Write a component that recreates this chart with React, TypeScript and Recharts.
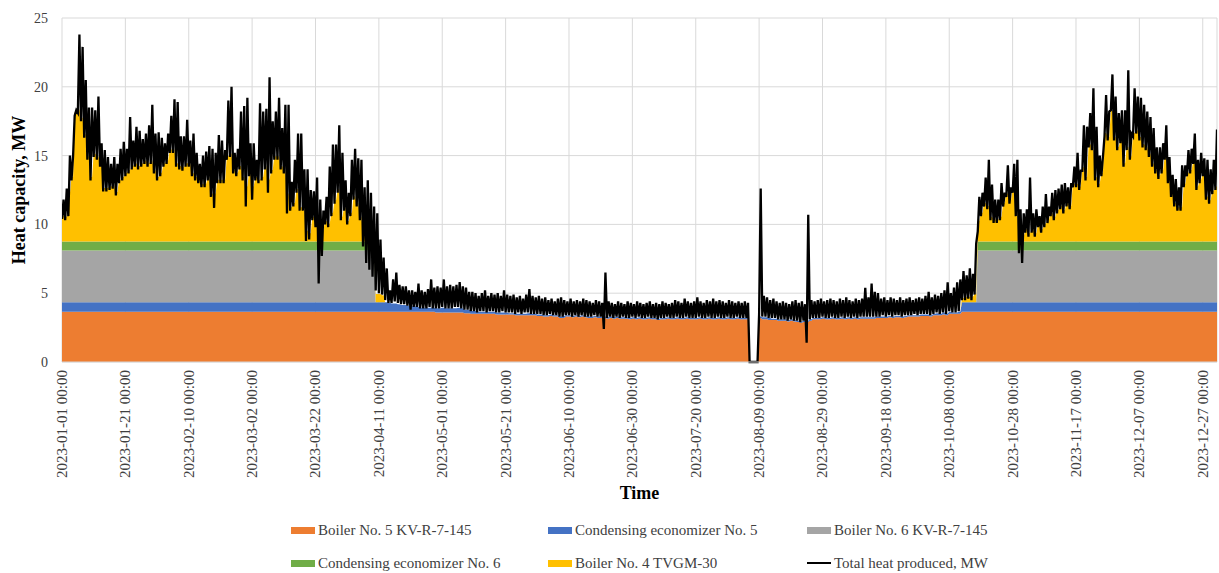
import React from 'react';
import { ComposedChart, Area, Line, XAxis, YAxis, CartesianGrid, Label } from 'recharts';

// ---- axis ticks ----
const tickDays = [0, 20, 40, 60, 80, 100, 120, 140, 160, 180, 200, 220, 240, 260, 280, 300, 320, 340, 360];
const tickLabels = [
  '2023-01-01 00:00', '2023-01-21 00:00', '2023-02-10 00:00', '2023-03-02 00:00', '2023-03-22 00:00',
  '2023-04-11 00:00', '2023-05-01 00:00', '2023-05-21 00:00', '2023-06-10 00:00', '2023-06-30 00:00',
  '2023-07-20 00:00', '2023-08-09 00:00', '2023-08-29 00:00', '2023-09-18 00:00', '2023-10-08 00:00',
  '2023-10-28 00:00', '2023-11-17 00:00', '2023-12-07 00:00', '2023-12-27 00:00',
];
const yTicks = [0, 5, 10, 15, 20, 25];

// ---- series names / colours ----
const seriesNames = [
  'Boiler No. 5 KV-R-7-145',
  'Condensing economizer No. 5',
  'Boiler No. 6 KV-R-7-145',
  'Condensing economizer No. 6',
  'Boiler No. 4 TVGM-30',
  'Total heat produced, MW',
];
const seriesColors = ['#ED7D31', '#4472C4', '#A5A5A5', '#70AD47', '#FFC000', '#000000'];

// ---- daily values, day 0 = 2023-01-01 ----
// daily peak of total heat produced, MW
const totalHigh = [
  11.8, 12.6, 15.0, 15.0, 18.3, 23.8, 22.9, 20.5, 18.5, 18.5, // 0
  18.3, 19.3, 15.9, 15.4, 14.9, 14.4, 14.9, 14.4, 15.5, 16.0, // 10
  15.5, 17.8, 16.1, 17.1, 16.8, 16.2, 16.6, 17.2, 18.7, 16.6, // 20
  16.7, 16.3, 15.9, 16.6, 17.9, 19.1, 18.9, 16.4, 16.4, 17.6, // 30
  16.1, 16.6, 15.2, 14.4, 15.0, 15.3, 15.7, 15.5, 15.2, 16.5, // 40
  16.1, 15.4, 19.0, 20.0, 15.2, 15.5, 18.2, 18.6, 19.2, 15.9, // 50
  15.9, 14.7, 18.8, 18.2, 18.4, 20.7, 17.5, 18.2, 19.2, 17.0, // 60
  18.7, 18.7, 13.1, 14.7, 16.6, 16.6, 14.0, 14.0, 12.5, 12.4, // 70
  13.4, 11.8, 11.0, 12.0, 14.2, 15.8, 15.8, 17.2, 15.2, 13.2, // 80
  12.3, 14.7, 15.5, 14.8, 14.7, 12.7, 13.2, 12.3, 11.3, 10.8, // 90
  8.9, 7.6, 6.8, 5.2, 6.0, 6.5, 5.6, 5.5, 5.5, 5.2, // 100
  5.2, 5.1, 5.7, 5.2, 5.1, 5.3, 6.0, 5.4, 5.5, 5.4, // 110
  6.0, 5.5, 5.6, 5.5, 5.6, 5.8, 5.5, 5.4, 5.1, 5.1, // 120
  5.0, 4.8, 5.0, 5.2, 4.8, 5.0, 4.9, 5.0, 4.8, 5.2, // 130
  4.9, 4.8, 4.9, 4.7, 4.8, 4.6, 4.9, 5.3, 4.8, 4.7, // 140
  4.8, 4.6, 4.7, 4.5, 4.6, 4.4, 4.6, 4.7, 4.5, 4.4, // 150
  4.6, 4.4, 4.5, 4.4, 4.6, 4.5, 4.4, 4.3, 4.5, 4.4, // 160
  4.3, 6.5, 4.4, 4.3, 4.2, 4.4, 4.3, 4.2, 4.4, 4.3, // 170
  4.2, 4.4, 4.3, 4.2, 4.3, 4.4, 4.2, 4.3, 4.2, 4.4, // 180
  4.3, 4.2, 4.3, 4.5, 4.4, 4.3, 4.6, 4.4, 4.3, 4.4, // 190
  4.7, 4.4, 4.3, 4.5, 4.4, 4.6, 4.4, 4.5, 4.4, 4.3, // 200
  4.5, 4.4, 4.3, 4.4, 4.3, 4.4, 4.3, 0, 0, 0, // 210
  12.6, 4.8, 4.7, 4.5, 4.6, 4.4, 4.3, 4.4, 4.3, 4.2, // 220
  4.4, 4.5, 4.3, 4.4, 4.2, 10.7, 4.5, 4.4, 4.5, 4.6, // 230
  4.4, 4.5, 4.6, 4.5, 4.4, 4.6, 4.5, 4.7, 4.5, 4.4, // 240
  4.6, 4.5, 4.6, 5.4, 4.7, 5.7, 5.1, 5.0, 4.6, 4.7, // 250
  4.5, 4.7, 4.6, 4.5, 4.7, 4.5, 4.6, 4.7, 4.5, 4.6, // 260
  4.7, 4.6, 4.8, 5.1, 4.7, 4.9, 4.8, 5.0, 5.2, 5.8, // 270
  5.0, 5.4, 5.8, 6.0, 6.6, 6.3, 6.8, 6.4, 8.6, 12.0, // 280
  12.3, 13.4, 14.7, 12.9, 11.8, 11.8, 13.0, 12.3, 14.3, 12.7, // 290
  14.4, 14.7, 11.1, 10.8, 11.1, 13.4, 10.8, 11.1, 10.6, 11.3, // 300
  12.2, 11.3, 12.3, 12.5, 12.6, 12.9, 13.0, 12.7, 13.0, 14.2, // 310
  15.2, 13.9, 17.2, 17.1, 18.1, 19.9, 17.1, 15.0, 14.9, 19.4, // 320
  18.2, 20.9, 19.3, 18.1, 18.3, 18.3, 21.2, 16.6, 19.9, 19.3, // 330
  19.2, 18.7, 18.2, 17.8, 17.0, 15.6, 15.6, 15.9, 17.2, 14.9, // 340
  13.6, 13.3, 12.7, 14.3, 14.3, 15.4, 15.5, 16.6, 14.7, 15.2, // 350
  14.8, 14.7, 14.0, 14.7, 16.9, // 360
];

// daily low of total heat produced, MW
const totalLow = [
  10.4, 10.3, 10.6, 13.2, 17.9, 18.1, 17.5, 16.3, 14.7, 13.2, // 0
  14.9, 14.7, 14.2, 12.4, 12.4, 12.5, 12.6, 12.1, 13.0, 13.2, // 10
  13.5, 13.7, 14.0, 14.2, 14.0, 14.2, 14.4, 14.2, 14.4, 13.7, // 20
  13.2, 13.5, 14.2, 14.4, 15.2, 15.2, 14.2, 14.0, 13.9, 14.2, // 30
  14.2, 13.5, 13.2, 13.0, 12.7, 12.7, 13.2, 12.0, 11.2, 13.0, // 40
  13.0, 13.0, 14.7, 14.9, 13.7, 13.5, 14.0, 13.2, 11.3, 13.5, // 50
  11.8, 13.2, 13.0, 13.2, 14.0, 12.3, 13.7, 14.7, 14.7, 14.0, // 60
  13.7, 10.8, 11.0, 11.3, 12.3, 11.0, 11.0, 8.8, 8.9, 10.3, // 70
  9.8, 5.7, 7.7, 10.0, 9.8, 10.6, 11.5, 12.3, 10.3, 11.0, // 80
  10.0, 10.6, 11.8, 11.3, 10.3, 8.4, 7.2, 6.7, 6.2, 5.2, // 90
  5.0, 4.9, 4.5, 4.3, 4.3, 4.4, 4.3, 4.2, 4.2, 4.1, // 100
  3.8, 4.0, 4.0, 3.9, 3.9, 3.9, 4.0, 3.9, 3.9, 3.9, // 110
  4.0, 3.9, 3.9, 3.9, 4.0, 4.0, 3.9, 3.8, 3.8, 3.7, // 120
  3.7, 3.6, 3.7, 3.7, 3.6, 3.7, 3.7, 3.6, 3.6, 3.7, // 130
  3.6, 3.6, 3.6, 3.5, 3.6, 3.5, 3.6, 3.6, 3.5, 3.5, // 140
  3.5, 3.5, 3.4, 3.4, 3.5, 3.4, 3.4, 3.3, 3.3, 3.4, // 150
  3.4, 3.3, 3.4, 3.3, 3.4, 3.3, 3.3, 3.3, 3.4, 3.3, // 160
  3.3, 2.4, 3.2, 3.3, 3.2, 3.3, 3.2, 3.3, 3.2, 3.2, // 170
  3.3, 3.2, 3.3, 3.2, 3.2, 3.3, 3.2, 3.2, 3.1, 3.2, // 180
  3.2, 3.3, 3.2, 3.2, 3.3, 3.2, 3.2, 3.3, 3.2, 3.2, // 190
  3.2, 3.3, 3.2, 3.2, 3.3, 3.2, 3.2, 3.3, 3.2, 3.2, // 200
  3.3, 3.2, 3.2, 3.3, 3.2, 3.2, 3.2, 0, 0, 0, // 210
  3.5, 3.3, 3.3, 3.2, 3.2, 3.2, 3.1, 3.1, 3.1, 3.0, // 220
  3.1, 3.0, 3.0, 2.9, 3.0, 1.4, 3.1, 3.2, 3.2, 3.2, // 230
  3.3, 3.2, 3.2, 3.3, 3.2, 3.2, 3.3, 3.2, 3.3, 3.2, // 240
  3.3, 3.2, 3.3, 3.3, 3.3, 3.3, 3.3, 3.3, 3.3, 3.4, // 250
  3.3, 3.4, 3.3, 3.4, 3.4, 3.3, 3.4, 3.4, 3.4, 3.5, // 260
  3.4, 3.5, 3.5, 3.5, 3.4, 3.5, 3.6, 3.5, 3.6, 3.5, // 270
  3.7, 3.6, 3.6, 3.7, 4.5, 4.5, 4.6, 4.5, 4.9, 9.5, // 280
  10.6, 11.3, 11.1, 10.3, 10.1, 10.1, 10.3, 11.3, 12.0, 11.5, // 290
  12.3, 10.6, 7.9, 7.2, 9.4, 9.1, 9.4, 9.1, 9.8, 9.4, // 300
  9.8, 10.1, 10.6, 10.3, 10.8, 11.1, 10.8, 11.3, 11.1, 12.7, // 310
  12.7, 12.5, 13.9, 13.2, 15.6, 15.4, 13.2, 12.7, 13.5, 16.4, // 320
  16.1, 18.3, 16.1, 15.4, 15.9, 14.2, 15.4, 14.7, 16.4, 16.6, // 330
  16.1, 15.6, 15.4, 14.9, 14.2, 13.7, 13.3, 13.7, 14.7, 13.0, // 340
  12.0, 11.3, 11.0, 11.0, 12.7, 13.5, 13.7, 14.4, 12.5, 13.0, // 350
  13.5, 11.8, 11.5, 12.2, 12.5, // 360
];

// Boiler No. 5 KV-R-7-145, MW
const boiler5 = [
  3.65, 3.65, 3.65, 3.65, 3.65, 3.65, 3.65, 3.65, 3.65, 3.65, // 0
  3.65, 3.65, 3.65, 3.65, 3.65, 3.65, 3.65, 3.65, 3.65, 3.65, // 10
  3.65, 3.65, 3.65, 3.65, 3.65, 3.65, 3.65, 3.65, 3.65, 3.65, // 20
  3.65, 3.65, 3.65, 3.65, 3.65, 3.65, 3.65, 3.65, 3.65, 3.65, // 30
  3.65, 3.65, 3.65, 3.65, 3.65, 3.65, 3.65, 3.65, 3.65, 3.65, // 40
  3.65, 3.65, 3.65, 3.65, 3.65, 3.65, 3.65, 3.65, 3.65, 3.65, // 50
  3.65, 3.65, 3.65, 3.65, 3.65, 3.65, 3.65, 3.65, 3.65, 3.65, // 60
  3.65, 3.65, 3.65, 3.65, 3.65, 3.65, 3.65, 3.65, 3.65, 3.65, // 70
  3.65, 3.65, 3.65, 3.65, 3.65, 3.65, 3.65, 3.65, 3.65, 3.65, // 80
  3.65, 3.65, 3.65, 3.65, 3.65, 3.65, 3.65, 3.65, 3.65, 3.65, // 90
  3.65, 3.65, 3.65, 3.65, 3.65, 3.65, 3.65, 3.65, 3.65, 3.65, // 100
  3.65, 3.65, 3.65, 3.65, 3.65, 3.65, 3.65, 3.65, 3.6, 3.6, // 110
  3.6, 3.6, 3.6, 3.6, 3.6, 3.6, 3.6, 3.55, 3.55, 3.5, // 120
  3.5, 3.5, 3.5, 3.5, 3.5, 3.5, 3.5, 3.45, 3.45, 3.45, // 130
  3.45, 3.45, 3.45, 3.4, 3.4, 3.4, 3.4, 3.4, 3.4, 3.4, // 140
  3.35, 3.35, 3.3, 3.3, 3.35, 3.3, 3.3, 3.2, 3.2, 3.3, // 150
  3.3, 3.25, 3.3, 3.25, 3.3, 3.25, 3.2, 3.2, 3.25, 3.2, // 160
  3.2, 3.2, 3.15, 3.2, 3.15, 3.2, 3.15, 3.15, 3.15, 3.1, // 170
  3.15, 3.1, 3.15, 3.1, 3.1, 3.15, 3.1, 3.1, 3.05, 3.1, // 180
  3.1, 3.15, 3.1, 3.1, 3.15, 3.1, 3.1, 3.15, 3.1, 3.1, // 190
  3.1, 3.15, 3.1, 3.1, 3.15, 3.1, 3.1, 3.15, 3.1, 3.1, // 200
  3.15, 3.1, 3.1, 3.15, 3.1, 3.1, 3.1, 0, 0, 0, // 210
  3.2, 3.1, 3.1, 3.05, 3.05, 3.05, 3.0, 3.0, 3.0, 2.95, // 220
  3.0, 2.95, 2.9, 2.85, 2.9, 2.9, 3.0, 3.1, 3.1, 3.1, // 230
  3.15, 3.1, 3.1, 3.15, 3.1, 3.1, 3.15, 3.1, 3.15, 3.1, // 240
  3.15, 3.1, 3.15, 3.15, 3.15, 3.15, 3.15, 3.2, 3.2, 3.2, // 250
  3.2, 3.25, 3.2, 3.25, 3.25, 3.2, 3.25, 3.3, 3.3, 3.3, // 260
  3.3, 3.35, 3.35, 3.35, 3.3, 3.4, 3.4, 3.4, 3.45, 3.4, // 270
  3.5, 3.5, 3.5, 3.5, 3.65, 3.65, 3.65, 3.65, 3.65, 3.65, // 280
  3.65, 3.65, 3.65, 3.65, 3.65, 3.65, 3.65, 3.65, 3.65, 3.65, // 290
  3.65, 3.65, 3.65, 3.65, 3.65, 3.65, 3.65, 3.65, 3.65, 3.65, // 300
  3.65, 3.65, 3.65, 3.65, 3.65, 3.65, 3.65, 3.65, 3.65, 3.65, // 310
  3.65, 3.65, 3.65, 3.65, 3.65, 3.65, 3.65, 3.65, 3.65, 3.65, // 320
  3.65, 3.65, 3.65, 3.65, 3.65, 3.65, 3.65, 3.65, 3.65, 3.65, // 330
  3.65, 3.65, 3.65, 3.65, 3.65, 3.65, 3.65, 3.65, 3.65, 3.65, // 340
  3.65, 3.65, 3.65, 3.65, 3.65, 3.65, 3.65, 3.65, 3.65, 3.65, // 350
  3.65, 3.65, 3.65, 3.65, 3.65, // 360
];

// Condensing economizer No. 5, MW
const econ5 = [
  0.7, 0.7, 0.7, 0.7, 0.7, 0.7, 0.7, 0.7, 0.7, 0.7, // 0
  0.7, 0.7, 0.7, 0.7, 0.7, 0.7, 0.7, 0.7, 0.7, 0.7, // 10
  0.7, 0.7, 0.7, 0.7, 0.7, 0.7, 0.7, 0.7, 0.7, 0.7, // 20
  0.7, 0.7, 0.7, 0.7, 0.7, 0.7, 0.7, 0.7, 0.7, 0.7, // 30
  0.7, 0.7, 0.7, 0.7, 0.7, 0.7, 0.7, 0.7, 0.7, 0.7, // 40
  0.7, 0.7, 0.7, 0.7, 0.7, 0.7, 0.7, 0.7, 0.7, 0.7, // 50
  0.7, 0.7, 0.7, 0.7, 0.7, 0.7, 0.7, 0.7, 0.7, 0.7, // 60
  0.7, 0.7, 0.7, 0.7, 0.7, 0.7, 0.7, 0.7, 0.7, 0.7, // 70
  0.7, 0.7, 0.7, 0.7, 0.7, 0.7, 0.7, 0.7, 0.7, 0.7, // 80
  0.7, 0.7, 0.7, 0.7, 0.7, 0.7, 0.7, 0.7, 0.7, 0.7, // 90
  0.7, 0.7, 0.7, 0.65, 0.6, 0.6, 0.55, 0.5, 0.5, 0.45, // 100
  0.4, 0.4, 0.35, 0.3, 0.3, 0.3, 0.3, 0.3, 0.3, 0.3, // 110
  0.35, 0.3, 0.3, 0.3, 0.3, 0.35, 0.3, 0.25, 0.25, 0.2, // 120
  0.2, 0.15, 0.15, 0.15, 0.15, 0.15, 0.15, 0.15, 0.15, 0.15, // 130
  0.15, 0.1, 0.1, 0.1, 0.1, 0.1, 0.1, 0.15, 0.1, 0.1, // 140
  0.1, 0.1, 0.1, 0.1, 0.1, 0.1, 0.1, 0.1, 0.15, 0.1, // 150
  0.1, 0.1, 0.1, 0.1, 0.1, 0.1, 0.1, 0.1, 0.1, 0.1, // 160
  0.1, 0.1, 0.1, 0.1, 0.1, 0.1, 0.1, 0.1, 0.1, 0.1, // 170
  0.1, 0.1, 0.1, 0.1, 0.1, 0.1, 0.1, 0.1, 0.1, 0.1, // 180
  0.1, 0.1, 0.1, 0.1, 0.1, 0.1, 0.1, 0.1, 0.1, 0.1, // 190
  0.1, 0.1, 0.1, 0.1, 0.1, 0.1, 0.1, 0.1, 0.1, 0.1, // 200
  0.1, 0.1, 0.1, 0.1, 0.1, 0.1, 0.1, 0, 0, 0, // 210
  0.1, 0.15, 0.15, 0.15, 0.1, 0.1, 0.1, 0.1, 0.1, 0.1, // 220
  0.1, 0.1, 0.1, 0.1, 0.1, 0.1, 0.1, 0.1, 0.1, 0.1, // 230
  0.1, 0.1, 0.1, 0.1, 0.1, 0.1, 0.1, 0.1, 0.1, 0.1, // 240
  0.1, 0.1, 0.1, 0.1, 0.1, 0.1, 0.1, 0.1, 0.1, 0.1, // 250
  0.1, 0.1, 0.1, 0.1, 0.1, 0.1, 0.1, 0.1, 0.1, 0.1, // 260
  0.1, 0.1, 0.1, 0.1, 0.1, 0.1, 0.15, 0.1, 0.15, 0.1, // 270
  0.15, 0.1, 0.1, 0.15, 0.7, 0.7, 0.7, 0.7, 0.7, 0.7, // 280
  0.7, 0.7, 0.7, 0.7, 0.7, 0.7, 0.7, 0.7, 0.7, 0.7, // 290
  0.7, 0.7, 0.7, 0.7, 0.7, 0.7, 0.7, 0.7, 0.7, 0.7, // 300
  0.7, 0.7, 0.7, 0.7, 0.7, 0.7, 0.7, 0.7, 0.7, 0.7, // 310
  0.7, 0.7, 0.7, 0.7, 0.7, 0.7, 0.7, 0.7, 0.7, 0.7, // 320
  0.7, 0.7, 0.7, 0.7, 0.7, 0.7, 0.7, 0.7, 0.7, 0.7, // 330
  0.7, 0.7, 0.7, 0.7, 0.7, 0.7, 0.7, 0.7, 0.7, 0.7, // 340
  0.7, 0.7, 0.7, 0.7, 0.7, 0.7, 0.7, 0.7, 0.7, 0.7, // 350
  0.7, 0.7, 0.7, 0.7, 0.7, // 360
];

// Boiler No. 6 KV-R-7-145, MW
const boiler6 = [
  3.75, 3.75, 3.75, 3.75, 3.75, 3.75, 3.75, 3.75, 3.75, 3.75, // 0
  3.75, 3.75, 3.75, 3.75, 3.75, 3.75, 3.75, 3.75, 3.75, 3.75, // 10
  3.75, 3.75, 3.75, 3.75, 3.75, 3.75, 3.75, 3.75, 3.75, 3.75, // 20
  3.75, 3.75, 3.75, 3.75, 3.75, 3.75, 3.75, 3.75, 3.75, 3.75, // 30
  3.75, 3.75, 3.75, 3.75, 3.75, 3.75, 3.75, 3.75, 3.75, 3.75, // 40
  3.75, 3.75, 3.75, 3.75, 3.75, 3.75, 3.75, 3.75, 3.75, 3.75, // 50
  3.75, 3.75, 3.75, 3.75, 3.75, 3.75, 3.75, 3.75, 3.75, 3.75, // 60
  3.75, 3.75, 3.75, 3.75, 3.75, 3.75, 3.75, 3.75, 3.75, 3.75, // 70
  3.75, 3.75, 3.75, 3.75, 3.75, 3.75, 3.75, 3.75, 3.75, 3.75, // 80
  3.75, 3.75, 3.75, 3.75, 3.75, 3.75, 3.75, 3.75, 3.75, 0, // 90
  0, 0, 0, 0, 0, 0, 0, 0, 0, 0, // 100
  0, 0, 0, 0, 0, 0, 0, 0, 0, 0, // 110
  0, 0, 0, 0, 0, 0, 0, 0, 0, 0, // 120
  0, 0, 0, 0, 0, 0, 0, 0, 0, 0, // 130
  0, 0, 0, 0, 0, 0, 0, 0, 0, 0, // 140
  0, 0, 0, 0, 0, 0, 0, 0, 0, 0, // 150
  0, 0, 0, 0, 0, 0, 0, 0, 0, 0, // 160
  0, 0, 0, 0, 0, 0, 0, 0, 0, 0, // 170
  0, 0, 0, 0, 0, 0, 0, 0, 0, 0, // 180
  0, 0, 0, 0, 0, 0, 0, 0, 0, 0, // 190
  0, 0, 0, 0, 0, 0, 0, 0, 0, 0, // 200
  0, 0, 0, 0, 0, 0, 0, 0, 0, 0, // 210
  0, 0, 0, 0, 0, 0, 0, 0, 0, 0, // 220
  0, 0, 0, 0, 0, 0, 0, 0, 0, 0, // 230
  0, 0, 0, 0, 0, 0, 0, 0, 0, 0, // 240
  0, 0, 0, 0, 0, 0, 0, 0, 0, 0, // 250
  0, 0, 0, 0, 0, 0, 0, 0, 0, 0, // 260
  0, 0, 0, 0, 0, 0, 0, 0, 0, 0, // 270
  0, 0, 0, 0, 0, 0, 0, 0, 0, 3.75, // 280
  3.75, 3.75, 3.75, 3.75, 3.75, 3.75, 3.75, 3.75, 3.75, 3.75, // 290
  3.75, 3.75, 3.75, 3.75, 3.75, 3.75, 3.75, 3.75, 3.75, 3.75, // 300
  3.75, 3.75, 3.75, 3.75, 3.75, 3.75, 3.75, 3.75, 3.75, 3.75, // 310
  3.75, 3.75, 3.75, 3.75, 3.75, 3.75, 3.75, 3.75, 3.75, 3.75, // 320
  3.75, 3.75, 3.75, 3.75, 3.75, 3.75, 3.75, 3.75, 3.75, 3.75, // 330
  3.75, 3.75, 3.75, 3.75, 3.75, 3.75, 3.75, 3.75, 3.75, 3.75, // 340
  3.75, 3.75, 3.75, 3.75, 3.75, 3.75, 3.75, 3.75, 3.75, 3.75, // 350
  3.75, 3.75, 3.75, 3.75, 3.75, // 360
];

// Condensing economizer No. 6, MW
const econ6 = [
  0.65, 0.65, 0.65, 0.65, 0.65, 0.65, 0.65, 0.65, 0.65, 0.65, // 0
  0.65, 0.65, 0.65, 0.65, 0.65, 0.65, 0.65, 0.65, 0.65, 0.65, // 10
  0.65, 0.65, 0.65, 0.65, 0.65, 0.65, 0.65, 0.65, 0.65, 0.65, // 20
  0.65, 0.65, 0.65, 0.65, 0.65, 0.65, 0.65, 0.65, 0.65, 0.65, // 30
  0.65, 0.65, 0.65, 0.65, 0.65, 0.65, 0.65, 0.65, 0.65, 0.65, // 40
  0.65, 0.65, 0.65, 0.65, 0.65, 0.65, 0.65, 0.65, 0.65, 0.65, // 50
  0.65, 0.65, 0.65, 0.65, 0.65, 0.65, 0.65, 0.65, 0.65, 0.65, // 60
  0.65, 0.65, 0.65, 0.65, 0.65, 0.65, 0.65, 0.65, 0.65, 0.65, // 70
  0.65, 0.65, 0.65, 0.65, 0.65, 0.65, 0.65, 0.65, 0.65, 0.65, // 80
  0.65, 0.65, 0.65, 0.65, 0.65, 0.65, 0.65, 0.65, 0.65, 0, // 90
  0, 0, 0, 0, 0, 0, 0, 0, 0, 0, // 100
  0, 0, 0, 0, 0, 0, 0, 0, 0, 0, // 110
  0, 0, 0, 0, 0, 0, 0, 0, 0, 0, // 120
  0, 0, 0, 0, 0, 0, 0, 0, 0, 0, // 130
  0, 0, 0, 0, 0, 0, 0, 0, 0, 0, // 140
  0, 0, 0, 0, 0, 0, 0, 0, 0, 0, // 150
  0, 0, 0, 0, 0, 0, 0, 0, 0, 0, // 160
  0, 0, 0, 0, 0, 0, 0, 0, 0, 0, // 170
  0, 0, 0, 0, 0, 0, 0, 0, 0, 0, // 180
  0, 0, 0, 0, 0, 0, 0, 0, 0, 0, // 190
  0, 0, 0, 0, 0, 0, 0, 0, 0, 0, // 200
  0, 0, 0, 0, 0, 0, 0, 0, 0, 0, // 210
  0, 0, 0, 0, 0, 0, 0, 0, 0, 0, // 220
  0, 0, 0, 0, 0, 0, 0, 0, 0, 0, // 230
  0, 0, 0, 0, 0, 0, 0, 0, 0, 0, // 240
  0, 0, 0, 0, 0, 0, 0, 0, 0, 0, // 250
  0, 0, 0, 0, 0, 0, 0, 0, 0, 0, // 260
  0, 0, 0, 0, 0, 0, 0, 0, 0, 0, // 270
  0, 0, 0, 0, 0, 0, 0, 0, 0, 0.65, // 280
  0.65, 0.65, 0.65, 0.65, 0.65, 0.65, 0.65, 0.65, 0.65, 0.65, // 290
  0.65, 0.65, 0.65, 0.65, 0.65, 0.65, 0.65, 0.65, 0.65, 0.65, // 300
  0.65, 0.65, 0.65, 0.65, 0.65, 0.65, 0.65, 0.65, 0.65, 0.65, // 310
  0.65, 0.65, 0.65, 0.65, 0.65, 0.65, 0.65, 0.65, 0.65, 0.65, // 320
  0.65, 0.65, 0.65, 0.65, 0.65, 0.65, 0.65, 0.65, 0.65, 0.65, // 330
  0.65, 0.65, 0.65, 0.65, 0.65, 0.65, 0.65, 0.65, 0.65, 0.65, // 340
  0.65, 0.65, 0.65, 0.65, 0.65, 0.65, 0.65, 0.65, 0.65, 0.65, // 350
  0.65, 0.65, 0.65, 0.65, 0.65, // 360
];

// Boiler No. 4 TVGM-30, MW
const boiler4 = [
  1.9, 1.8, 3.5, 4.7, 9.4, 9.6, 9.0, 7.8, 6.2, 4.7, // 0
  6.4, 6.2, 5.7, 3.9, 3.9, 4.0, 4.1, 3.6, 4.5, 4.7, // 10
  5.0, 5.2, 5.5, 5.7, 5.5, 5.7, 5.9, 5.7, 5.9, 5.2, // 20
  4.7, 5.0, 5.7, 5.9, 6.7, 6.7, 5.7, 5.5, 5.4, 5.7, // 30
  5.7, 5.0, 4.7, 4.5, 4.2, 4.2, 4.7, 3.5, 3.5, 4.5, // 40
  4.5, 4.5, 6.2, 6.4, 5.2, 5.0, 5.5, 4.7, 4.0, 5.0, // 50
  4.0, 4.7, 4.5, 4.7, 5.5, 4.5, 5.2, 6.2, 6.2, 5.5, // 60
  5.2, 3.5, 2.5, 2.8, 3.8, 2.5, 2.5, 0.8, 0.6, 1.8, // 70
  1.3, 1.0, 0.8, 1.5, 1.3, 2.1, 3.0, 3.8, 1.8, 2.5, // 80
  1.5, 2.1, 3.3, 2.8, 1.8, 0.6, 0.4, 0.3, 0.2, 0.6, // 90
  0.6, 0.5, 0, 0, 0, 0, 0, 0, 0, 0, // 100
  0, 0, 0, 0, 0, 0, 0, 0, 0, 0, // 110
  0, 0, 0, 0, 0, 0, 0, 0, 0, 0, // 120
  0, 0, 0, 0, 0, 0, 0, 0, 0, 0, // 130
  0, 0, 0, 0, 0, 0, 0, 0, 0, 0, // 140
  0, 0, 0, 0, 0, 0, 0, 0, 0, 0, // 150
  0, 0, 0, 0, 0, 0, 0, 0, 0, 0, // 160
  0, 0, 0, 0, 0, 0, 0, 0, 0, 0, // 170
  0, 0, 0, 0, 0, 0, 0, 0, 0, 0, // 180
  0, 0, 0, 0, 0, 0, 0, 0, 0, 0, // 190
  0, 0, 0, 0, 0, 0, 0, 0, 0, 0, // 200
  0, 0, 0, 0, 0, 0, 0, 0, 0, 0, // 210
  0, 0, 0, 0, 0, 0, 0, 0, 0, 0, // 220
  0, 0, 0, 0, 0, 0, 0, 0, 0, 0, // 230
  0, 0, 0, 0, 0, 0, 0, 0, 0, 0, // 240
  0, 0, 0, 0, 0, 0, 0, 0, 0, 0, // 250
  0, 0, 0, 0, 0, 0, 0, 0, 0, 0, // 260
  0, 0, 0, 0, 0, 0, 0, 0, 0, 0, // 270
  0, 0, 0, 0, 0.3, 0.4, 0.4, 0.4, 0.6, 1.5, // 280
  2.1, 2.8, 2.6, 1.8, 1.6, 1.6, 1.8, 2.8, 3.5, 3.0, // 290
  3.8, 2.1, 0.5, 0.3, 0.9, 0.6, 0.9, 0.6, 1.3, 0.9, // 300
  1.3, 1.6, 2.1, 1.8, 2.3, 2.6, 2.3, 2.8, 2.6, 4.2, // 310
  4.2, 4.0, 5.4, 4.7, 7.1, 6.9, 4.7, 4.2, 5.0, 7.9, // 320
  7.6, 9.5, 7.6, 6.9, 7.4, 5.7, 6.9, 6.2, 7.9, 8.1, // 330
  7.6, 7.1, 6.9, 6.4, 5.7, 5.2, 4.8, 5.2, 6.2, 4.5, // 340
  3.5, 2.8, 2.5, 2.5, 4.2, 5.0, 5.2, 5.9, 4.0, 4.5, // 350
  5.0, 3.3, 3.0, 3.7, 4.0, // 360
];

// ---- table for Recharts: two rows per day (daily low, then daily peak of the total) ----
const chartData: any[] = [];
for (let i = 0; i < totalHigh.length; i++) {
  const parts = { b5: boiler5[i], e5: econ5[i], b6: boiler6[i], e6: econ6[i], b4: boiler4[i] };
  chartData.push({ x: i, total: totalLow[i], ...parts });
  chartData.push({ x: i + 0.5, total: totalHigh[i], ...parts });
}

const FONT = "'Liberation Serif', 'Times New Roman', serif";

const XTick = (props: any) => {
  const { x, y, payload } = props;
  const idx = tickDays.indexOf(payload.value);
  return (
    <text
      x={x}
      y={y}
      transform={`rotate(-90, ${x}, ${y})`}
      textAnchor="end"
      dominantBaseline="central"
      style={{ fontFamily: FONT, fontSize: 15, fill: '#404040' }}
    >
      {tickLabels[idx]}
    </text>
  );
};

const LegendItem = ({ left, top, color, label, isLine }: any) => (
  <div style={{ position: 'absolute', left, top, display: 'flex', alignItems: 'center', whiteSpace: 'nowrap' }}>
    {isLine ? (
      <div style={{ width: 24, height: 2, background: color, marginRight: 3 }} />
    ) : (
      <div style={{ width: 24, height: 7, background: color, marginRight: 3 }} />
    )}
    <span style={{ fontFamily: FONT, fontSize: 15, color: '#404040', lineHeight: '18px' }}>{label}</span>
  </div>
);

export default function App() {
  const legendPos = [
    { left: 291, top: 521 },
    { left: 548, top: 521 },
    { left: 807, top: 521 },
    { left: 291, top: 554 },
    { left: 548, top: 554 },
    { left: 807, top: 554 },
  ];
  return (
    <div style={{ position: 'absolute', left: 0, top: 0, width: 1219, height: 573, background: '#fff' }}>
      <ComposedChart
        width={1219}
        height={573}
        data={chartData}
        margin={{ top: 18, right: 2, left: 12, bottom: 71 }}
      >
        <CartesianGrid stroke="#d9d9d9" strokeWidth={1} />
        <XAxis
          dataKey="x"
          type="number"
          domain={[0, 364.5]}
          ticks={tickDays}
          interval={0}
          tick={<XTick />}
          tickLine={false}
          axisLine={{ stroke: '#d9d9d9' }}
          height={140}
          allowDataOverflow
        >
          <Label
            value="Time"
            position="insideBottom"
            offset={3}
            style={{ fontFamily: FONT, fontSize: 18, fontWeight: 'bold', fill: '#000' }}
          />
        </XAxis>
        <YAxis
          type="number"
          domain={[0, 25]}
          ticks={yTicks}
          width={50}
          axisLine={false}
          tickLine={false}
          tickMargin={8}
          tick={{ style: { fontFamily: FONT, fontSize: 14, fill: '#404040' } }}
        >
          <Label
            value="Heat capacity, MW"
            angle={-90}
            position="insideLeft"
            offset={7}
            style={{ fontFamily: FONT, fontSize: 18, fontWeight: 'bold', fill: '#000', textAnchor: 'middle' }}
          />
        </YAxis>
        <Area type="linear" dataKey="b5" name={seriesNames[0]} stackId="s" stroke="none" fill={seriesColors[0]} fillOpacity={1} isAnimationActive={false} />
        <Area type="linear" dataKey="e5" name={seriesNames[1]} stackId="s" stroke="none" fill={seriesColors[1]} fillOpacity={1} isAnimationActive={false} />
        <Area type="linear" dataKey="b6" name={seriesNames[2]} stackId="s" stroke="none" fill={seriesColors[2]} fillOpacity={1} isAnimationActive={false} />
        <Area type="linear" dataKey="e6" name={seriesNames[3]} stackId="s" stroke="none" fill={seriesColors[3]} fillOpacity={1} isAnimationActive={false} />
        <Area type="linear" dataKey="b4" name={seriesNames[4]} stackId="s" stroke="none" fill={seriesColors[4]} fillOpacity={1} isAnimationActive={false} />
        <Line type="linear" dataKey="total" name={seriesNames[5]} stroke={seriesColors[5]} strokeWidth={2.3} dot={false} activeDot={false} isAnimationActive={false} />
      </ComposedChart>
      {seriesNames.map((n, i) => (
        <LegendItem key={n} left={legendPos[i].left} top={legendPos[i].top} color={seriesColors[i]} label={n} isLine={i === 5} />
      ))}
    </div>
  );
}
